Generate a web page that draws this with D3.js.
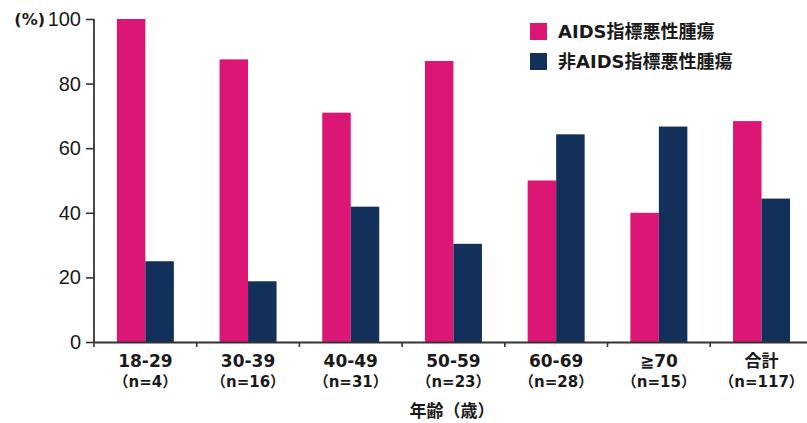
<!DOCTYPE html>
<html>
<head>
<meta charset="utf-8">
<script src="https://cdn.jsdelivr.net/npm/d3@7"></script>
<style>
  html, body { margin: 0; padding: 0; background: #fff; }
  svg { display: block; }
  text { font-family: "DejaVu Sans", "Noto Sans CJK JP", sans-serif; fill: #1a1a1a; }
</style>
</head>
<body>
<svg id="chart" width="807" height="423"></svg>
<script>
// Age groups and sample sizes
const ageGroups = ["18-29", "30-39", "40-49", "50-59", "60-69", "≧70", "合計"];
const sampleSizes = ["（n=4）", "（n=16）", "（n=31）", "（n=23）", "（n=28）", "（n=15）", "（n=117）"];
// Share of patients (%) per group
const aidsDefining = [100, 87.5, 71.0, 87.0, 50.0, 40.0, 68.4];
const nonAidsDefining = [25.0, 18.8, 41.9, 30.4, 64.3, 66.7, 44.4];
const seriesNames = ["AIDS指標悪性腫瘍", "非AIDS指標悪性腫瘍"];
const seriesColors = ["#dc1674", "#13305a"];
const yTicks = [0, 20, 40, 60, 80, 100];

const svg = d3.select("#chart");

const y = d3.scaleLinear().domain([0, 100]).range([342, 19]);
const x = d3.scaleBand().domain(ageGroups).range([94, 94 + 7 * 102.7]).padding(0);
const xs = d3.scaleBand().domain([0, 1]).range([-28.5, 28.5]).padding(0);

// Bars
const rows = ageGroups.map((g, i) => ({ g, vals: [aidsDefining[i], nonAidsDefining[i]] }));
const grp = svg.append("g").selectAll("g").data(rows).join("g")
  .attr("transform", d => `translate(${x(d.g) + x.bandwidth() / 2},0)`);
grp.selectAll("rect").data(d => d.vals.map((v, k) => ({ v, k }))).join("rect")
  .attr("x", d => xs(d.k))
  .attr("width", xs.bandwidth())
  .attr("y", d => y(d.v))
  .attr("height", d => y(0) - y(d.v))
  .attr("fill", d => seriesColors[d.k]);

// Y axis
const yAxis = svg.append("g").attr("transform", "translate(94,0)")
  .call(d3.axisLeft(y).tickValues(yTicks).tickSize(8).tickPadding(5));
yAxis.select(".domain").attr("stroke", "#333").attr("stroke-width", 1.8).attr("d", `M0,${y(100)}V${y(0)}`);
yAxis.selectAll(".tick line").attr("stroke", "#333").attr("stroke-width", 1.6);
yAxis.selectAll(".tick text")
  .style("font-family", "'Liberation Sans', Arial, sans-serif")
  .style("font-size", "20px").style("font-weight", "400").attr("fill", "#1a1a1a");

svg.append("text").attr("x", 45).attr("y", y(100)).attr("dy", "0.36em")
  .attr("text-anchor", "end").style("font-size", "16px").style("font-weight", "700")
  .text("(%)");

// X axis
const xAxis = svg.append("g").attr("transform", `translate(0,${y(0)})`)
  .call(d3.axisBottom(x).tickValues([]).tickSizeOuter(0));
xAxis.select(".domain").attr("stroke", "#333").attr("stroke-width", 1.8);
const boundaries = ageGroups.map(g => x(g));
svg.append("g").selectAll("line").data(boundaries).join("line")
  .attr("x1", d => d).attr("x2", d => d)
  .attr("y1", y(0)).attr("y2", y(0) + 5)
  .attr("stroke", "#333").attr("stroke-width", 1.6);

const labels = svg.append("g").selectAll("g").data(ageGroups).join("g")
  .attr("transform", g => `translate(${x(g) + x.bandwidth() / 2},0)`);
labels.append("text").attr("y", 367).attr("text-anchor", "middle")
  .style("font-size", "17px").style("font-weight", "700")
  .text(g => g);
labels.append("text").attr("y", 387).attr("text-anchor", "middle")
  .style("font-size", "15px").style("font-weight", "700")
  .text((g, i) => sampleSizes[i]);

svg.append("text").attr("x", 452).attr("y", 417).attr("text-anchor", "middle")
  .style("font-family", "'Noto Sans CJK JP', sans-serif")
  .style("font-size", "17px").style("font-weight", "700")
  .text("年齢（歳）");

// Legend
const legend = svg.append("g").selectAll("g").data(seriesNames).join("g")
  .attr("transform", (d, i) => `translate(530,${23 + i * 30})`);
legend.append("rect").attr("width", 17).attr("height", 17)
  .attr("fill", (d, i) => seriesColors[i]);
legend.append("text").attr("x", 28).attr("y", 9).attr("dy", "0.36em")
  .style("font-size", "18px").style("font-weight", "700")
  .text(d => d);
</script>
</body>
</html>
